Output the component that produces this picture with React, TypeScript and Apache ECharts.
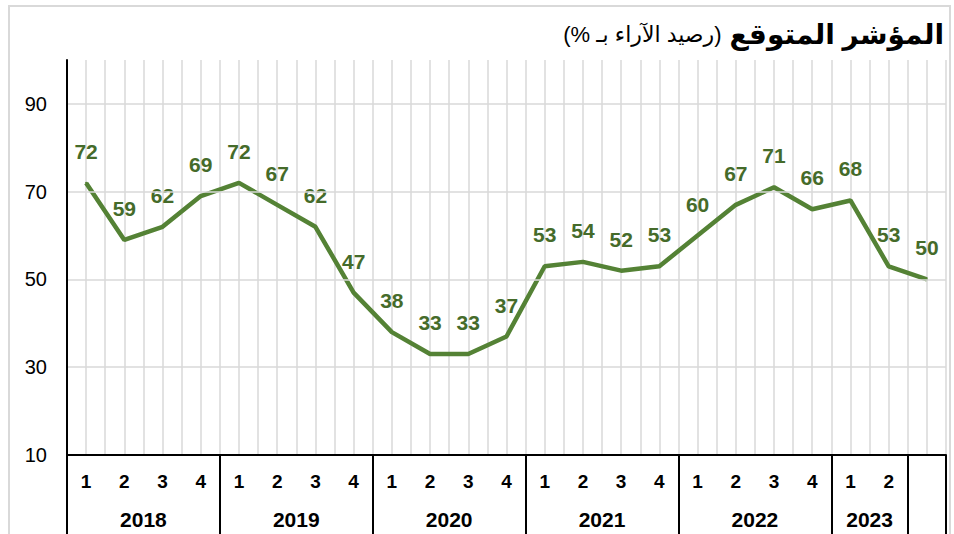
import React, { useEffect, useRef } from "react";
import * as echarts from "echarts";

const quarterLabels = [
  "1", "2", "3", "4",
  "1", "2", "3", "4",
  "1", "2", "3", "4",
  "1", "2", "3", "4",
  "1", "2", "3", "4",
  "1", "2", "",
];
const values = [72, 59, 62, 69, 72, 67, 62, 47, 38, 33, 33, 37, 53, 54, 52, 53, 60, 67, 71, 66, 68, 53, 50];
const yearLabels = ["2018", "2019", "2020", "2021", "2022", "2023"];
const yearCenters = [2, 6, 10, 14, 18, 21];
const yearBoundaries = [0, 4, 8, 12, 16, 20, 22, 23];
const gridValues = [30, 50, 70, 90];
const yTicks = [10, 30, 50, 70, 90];
const titleBold = "المؤشر المتوقع";
const titleRegular = "(رصيد الآراء بـ %)";

export default function App() {
  const ref = useRef<HTMLDivElement>(null);
  useEffect(() => {
    if (!ref.current) return;
    const chart = echarts.init(ref.current, null, { renderer: "svg" });
    const font = "Arial, 'Liberation Sans', 'DejaVu Sans', sans-serif";
    const narrow = "'Liberation Sans Narrow', 'Arial Narrow', Arial, 'Liberation Sans', sans-serif";
    const n = quarterLabels.length;
    chart.setOption({
      animation: false,
      textStyle: { fontFamily: font },
      grid: { left: 67, right: 8, top: 60, bottom: 79, containLabel: false },
      graphic: [
        {
          type: "rect",
          shape: { x: 9, y: 6, width: 941, height: 540 },
          style: { fill: "none", stroke: "#d9d9d9", lineWidth: 2 },
          silent: true,
          z: -10,
        },
        {
          type: "text",
          right: 10,
          top: 20,
          style: {
            text:
              "{r|\u202B" + titleRegular + "\u202C}{s| }{b|\u202B" + titleBold + "\u202C}",
            rich: {
              r: { fontSize: 22, fontFamily: font, fontWeight: "normal", fill: "#000", color: "#000" },
              s: { fontSize: 22, fontFamily: font, width: 8 },
              b: { fontSize: 28, fontFamily: font, fontWeight: "bold", fill: "#000", color: "#000" },
            },
          },
        },
      ],
      xAxis: [
        {
          type: "category",
          data: quarterLabels,
          boundaryGap: true,
          position: "bottom",
          axisLine: { show: true, lineStyle: { color: "#000", width: 2 } },
          axisTick: { show: false },
          axisLabel: {
            interval: 0,
            margin: 17,
            color: "#000",
            fontWeight: "bold",
            fontSize: 19,
            fontFamily: narrow,
          },
          splitLine: { show: false },
          z: 5,
        },
        {
          type: "value",
          min: 0,
          max: n,
          interval: 0.5,
          position: "bottom",
          axisLine: { show: false },
          axisTick: { show: false },
          axisLabel: { show: false },
          splitLine: { show: true, lineStyle: { color: "#d9d9d9", width: 1.5 } },
        },
        {
          type: "value",
          min: 0,
          max: n,
          position: "bottom",
          axisLine: { show: false },
          axisTick: {
            show: true,
            inside: false,
            length: 80,
            customValues: yearBoundaries,
            lineStyle: { color: "#000", width: 2 },
          },
          axisLabel: {
            show: true,
            customValues: yearCenters,
            margin: 54,
            color: "#000",
            fontWeight: "bold",
            fontSize: 21,
            fontFamily: narrow,
            formatter: (v: number) => {
              const i = yearCenters.indexOf(v);
              return i >= 0 ? yearLabels[i] : "";
            },
          },
          splitLine: { show: false },
        },
      ],
      yAxis: {
        type: "value",
        min: 10,
        max: 100,
        interval: 20,
        axisLine: { show: true, lineStyle: { color: "#000", width: 2 } },
        axisTick: { show: false },
        splitLine: { show: false },
        axisLabel: {
          margin: 20,
          color: "#000",
          fontSize: 20,
          fontFamily: font,
          showMaxLabel: false,
          formatter: (v: number) => (yTicks.indexOf(v) >= 0 ? String(v) : ""),
        },
        z: 5,
      },
      series: [
        {
          type: "line",
          xAxisIndex: 0,
          data: [],
          silent: true,
          z: 1,
          markLine: {
            silent: true,
            symbol: "none",
            label: { show: false },
            lineStyle: { color: "#d9d9d9", width: 1.5, type: "solid" },
            data: gridValues.map((v) => ({ yAxis: v })),
          },
        },
        {
          type: "line",
          xAxisIndex: 0,
          data: values,
          z: 4,
          symbol: "circle",
          symbolSize: 2,
          showSymbol: true,
          itemStyle: { color: "#548235" },
          lineStyle: { color: "#548235", width: 4.5 },
          label: {
            show: true,
            position: "top",
            distance: 20,
            color: "#456b2a",
            fontWeight: "bold",
            fontSize: 21,
            fontFamily: font,
          },
        },
      ],
    });
    return () => chart.dispose();
  }, []);
  return (
    <div
      ref={ref}
      style={{ position: "absolute", left: 0, top: 0, width: 954, height: 534 }}
    />
  );
}
